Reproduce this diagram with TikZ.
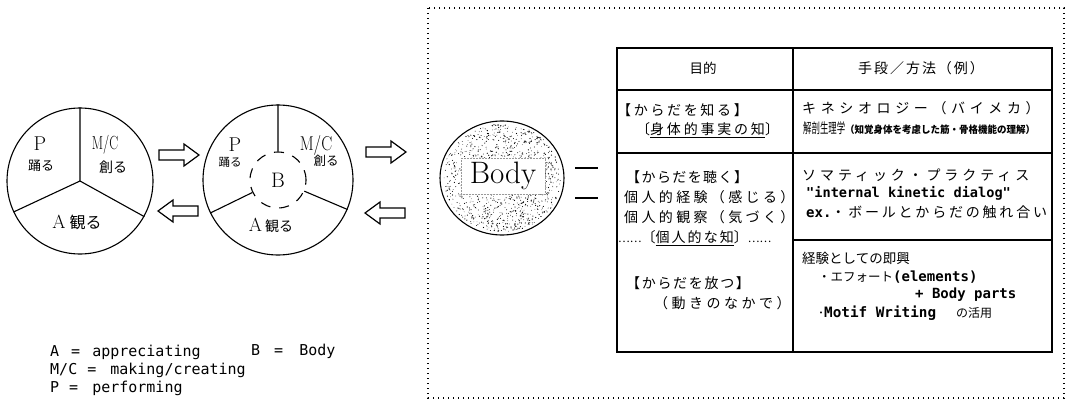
\documentclass[tikz,border=0pt]{standalone}
\usepackage{fontspec}
\usepackage{graphicx}
\usetikzlibrary{shapes.geometric}
\newfontfamily\jp{Noto Sans CJK JP}
\newfontfamily\mono{DejaVu Sans Mono}
\newcommand\fsz[1]{\fontsize{#1}{#1}\selectfont}
\newcommand\lsp[1]{\addfontfeature{LetterSpace=#1}}
\begin{document}
\begin{tikzpicture}[x=1pt,y=-1pt,
  lbl/.style={inner sep=0pt, anchor=west},
  clbl/.style={inner sep=0pt, anchor=center},
  ring/.style={circle, draw, line width=1.1pt, inner sep=0pt},
  rule/.style={line width=1.1pt},
  blockR/.pic={\draw[line width=1.2pt, line join=miter] (-20,-5) -- (5,-5) -- (5,-11) -- (20,0) -- (5,11) -- (5,5) -- (-20,5) -- cycle;},
  blockL/.pic={\draw[line width=1.2pt, line join=miter] (20,-5) -- (-5,-5) -- (-5,-11) -- (-20,0) -- (-5,11) -- (-5,5) -- (20,5) -- cycle;}]
\useasboundingbox (0,0) rectangle (1068,401);

% ---------- circle 1 ----------
\node[ring, minimum size=146pt] (c1) at (80,181) {};
\draw[rule] (c1.center) -- (c1.90) (c1.center) -- (c1.205) (c1.center) -- (c1.-29);
\node[clbl, font=\fsz{20}] (p1) at (40,144) {P};
\node[clbl, font=\jp\fsz{13}] (o1) at (41,166) {踊る};
\node[clbl] (m1) at (105,145) {\scalebox{0.7}[1]{\fsz{19}M/C}};
\node[clbl, font=\jp\fsz{14}] (s1) at (113,167) {創る};
\node[clbl] (al1) at (77,222) {{\fsz{19}A}\hspace{4pt}{\jp\fsz{16}観る}};

% ---------- circle 2 ----------
\node[ring, minimum size=150pt] (c2) at (278,180) {};
\node[circle, draw, line width=1.1pt, dash pattern=on 10pt off 9pt, minimum size=56pt, inner sep=0pt,
      font=\fsz{21}] (b) at (278,180) {B};
\draw[rule] (b.90) -- (c2.90) (b.206) -- (c2.206) (b.-23) -- (c2.-23);
\node[clbl, font=\fsz{20}] (p2) at (235,145) {P};
\node[clbl, font=\jp\fsz{11.5}] (o2) at (230,162) {踊る};
\node[clbl] (m2) at (316,145) {\scalebox{0.82}[1]{\fsz{20}M/C}};
\node[clbl, font=\jp\fsz{12.5}] (s2) at (326,161) {創る};
\node[clbl] (al2) at (271,225) {{\fsz{19}A}\hspace{3pt}{\jp\fsz{14}観る}};

% ---------- arrows ----------
\coordinate (ar1) at (179,155);
\coordinate (ar2) at (178,211);
\coordinate (ar3) at (386,152);
\coordinate (ar4) at (385,213);
\pic at (ar1) {blockR};
\pic at (ar2) {blockL};
\pic at (ar3) {blockR};
\pic at (ar4) {blockL};

% ---------- dotted frame ----------
\draw[line width=1.2pt, dash pattern=on 1.2pt off 3.8pt] (428,8) rectangle (1064,398);

% ---------- Body ----------
\node[ellipse, draw, line width=1.1pt, minimum width=124pt, minimum height=114pt, inner sep=0pt] (body) at (502,178) {};
\pgfmathsetseed{12}
\foreach \i in {1,...,1150}{
  \pgfmathsetmacro\ang{360*rnd}
  \pgfmathsetmacro\rr{sqrt(rnd)}
  \pgfmathsetmacro\dr{0.3+0.35*rnd}
  \pgfmathsetmacro\dx{\rr*59*cos(\ang)}
  \pgfmathsetmacro\dy{\rr*54*sin(\ang)}
  \fill ([shift={(\dx pt,\dy pt)}]body.center) circle[radius=\dr pt];
}
\node[fill=white, draw=black!40, densely dotted, line width=0.5pt, minimum width=84pt, minimum height=36pt,
      inner sep=0pt, font=\fsz{31}] (bodytxt) at (503,176) {Body};
\coordinate (e1a) at (575,168); \coordinate (e1b) at (598,168);
\coordinate (e2a) at (575,198); \coordinate (e2b) at (598,198);
\draw[rule] (e1a) -- (e1b);
\draw[rule] (e2a) -- (e2b);

% ---------- table ----------
\draw[line width=1.3pt] (617,48) rectangle (1052,352);
\draw[rule] (793,48) -- (793,352);
\draw[rule] (617,90) -- (1052,90);
\draw[rule] (617,153) -- (1052,153);
\draw[rule] (793,240) -- (1052,240);

\node[clbl, font=\jp\fsz{13.5}] (h1) at (703,68) {目的};
\node[lbl, font=\jp\fsz{14}] (h2) at (858,68) {\lsp{14}手段／方法（例）};

\node[lbl, font=\jp\fsz{14}] (l1) at (617,110) {\lsp{19}【からだを知る】};
\node[lbl, font=\jp\fsz{14}] (l2) at (636,130) {\lsp{20}〔\underline{身体的事実の知}〕};
\node[lbl, font=\jp\fsz{14}] (l3) at (626,177) {\lsp{10}【からだを聴く】};
\node[lbl, font=\jp\fsz{14}] (l4) at (624,197) {\lsp{24}個人的経験（感じる）};
\node[lbl, font=\jp\fsz{14}] (l5) at (624,217) {\lsp{24}個人的観察（気づく）};
\node[lbl, font=\jp] (l6) at (618,238) {{\fsz{11}……}{\fsz{14}\lsp{15}〔\underline{個人的な知}〕}{\fsz{11}……}};
\node[lbl, font=\jp\fsz{14}] (l7) at (626,283) {\lsp{12}【からだを放つ】};
\node[lbl, font=\jp\fsz{14}] (l8) at (654,303) {\lsp{25}（動きのなかで）};

\node[lbl, font=\jp\fsz{14}] (r1) at (802,108) {\lsp{33}キネシオロジー（バイメカ）};
\node[lbl, font=\jp] (r2) at (803,128) {\scalebox{0.6}[1]{\fsz{14}解剖生理学}\scalebox{0.95}[1]{\fsz{10}\bfseries（知覚身体を考慮した筋・骨格機能の理解）}};
\node[lbl, font=\jp\fsz{14}] (r3) at (802,175) {\lsp{28}ソマティック・プラクティス};
\node[lbl, font=\mono\bfseries\fsz{13.6}] (r4) at (806,193) {"internal kinetic dialog"};
\node[lbl] (r5) at (806,212) {{\mono\bfseries\fsz{14}ex.}{\jp\fsz{14}\lsp{20}・ボールとからだの触れ合い}};
\node[lbl, font=\jp\fsz{13.5}] (r6) at (802,258) {経験としての即興};
\node[lbl] (r7) at (818,277) {{\jp\fsz{12.5}・エフォート}{\mono\bfseries\fsz{14}(elements)}};
\node[lbl, font=\mono\bfseries\fsz{14}] (r8) at (915,295) {+ Body parts};
\node[lbl] (r9) at (818,313) {{\jp\fsz{12}･}{\mono\bfseries\fsz{14.3}Motif Writing}\hspace{20pt}{\jp\fsz{12}の活用}};

% ---------- legend ----------
\node[lbl, font=\mono\fsz{15}] (lg1) at (50,352) {A\hspace{12pt}=\hspace{12pt}appreciating};
\node[lbl, font=\mono\fsz{15}] (lg2) at (50,370) {M/C\hspace{10pt}=\hspace{14pt}making/creating};
\node[lbl, font=\mono\fsz{15}] (lg3) at (50,388) {P\hspace{10pt}=\hspace{14pt}performing};
\node[lbl, font=\mono\fsz{15}] (lg4) at (251,351) {B\hspace{14pt}=\hspace{16pt}Body};
\end{tikzpicture}
\end{document}
